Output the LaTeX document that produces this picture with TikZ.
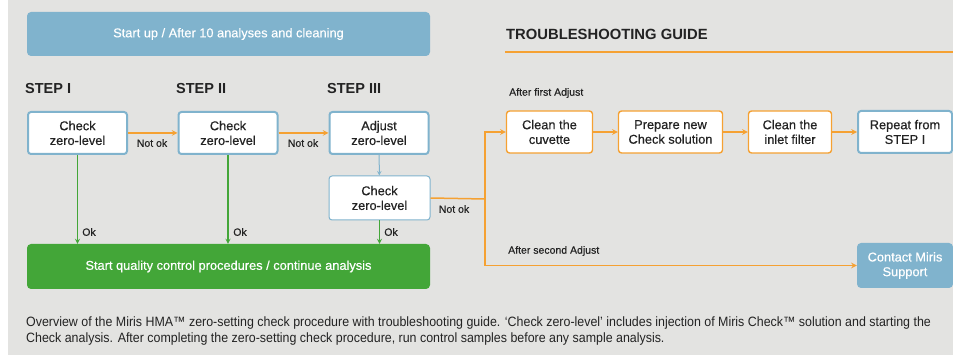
\documentclass[tikz,border=0pt]{standalone}
\usepackage{fontspec}
\setmainfont{Liberation Sans}
\newfontfamily\capfont[FakeStretch=0.92]{Liberation Sans}
\newfontfamily\medfont[FakeBold=0.4]{Liberation Sans}
\usepackage{tikz}
\usetikzlibrary{shapes}
\usetikzlibrary{arrows}
\definecolor{bggray}{HTML}{E3E3E1}
\definecolor{mirisblue}{HTML}{80B3CD}
\definecolor{okgreen}{HTML}{43A638}
\definecolor{tsorange}{HTML}{F5A132}
\definecolor{txtdark}{HTML}{232323}

\begin{document}
\begin{tikzpicture}[x=1pt,y=-1pt]
        \useasboundingbox (0,0) rectangle (953,355);
        \fill[bggray] (8,0) rectangle (953,355);
        \tikzstyle{block} = [draw=mirisblue,line width=2pt,fill=white,rounded corners=3pt,minimum width=99pt,minimum height=42pt,inner sep=0pt,align=center,text=txtdark,font=\medfont\fontsize{12.8}{14.7}\selectfont]
        \tikzstyle{tsblock} = [block,draw=tsorange,line width=1.4pt]
        \tikzstyle{banner} = [rounded corners=4pt,minimum width=403pt,minimum height=44pt,inner sep=0pt,align=center,text=white,font=\medfont\fontsize{12.8}{14.7}\selectfont]
        \tikzstyle{steplabel} = [anchor=west,inner sep=0pt,text=txtdark,font=\fontsize{14.5}{16}\selectfont\bfseries]
        \tikzstyle{small} = [inner sep=0pt,text=txtdark,font=\medfont\fontsize{10.5}{12}\selectfont]
        \tikzstyle{okline} = [draw=okgreen,line width=1.2pt,->,>=stealth]
        \tikzstyle{tsline} = [draw=tsorange,line width=1.5pt]
        \node[banner,fill=mirisblue] (startup) at (228.5,34) {Start up / After 10 analyses and cleaning};
        \node[anchor=west,inner sep=0pt,text=txtdark,font=\fontsize{14.8}{16}\selectfont\bfseries] (guide) at (506,34) {TROUBLESHOOTING GUIDE};
        \draw[tsorange,line width=1.3pt] (505,52)--(953,52);
        \node[steplabel] (stepone) at (25,89) {STEP I};
        \node[steplabel] (steptwo) at (176,89) {STEP II};
        \node[steplabel] (stepthree) at (327,89) {STEP III};
        \node[block] (checkone) at (77.5,133) {Check\\zero-level};
        \node[block] (checktwo) at (228,133) {Check\\zero-level};
        \node[block] (adjust) at (379,133) {Adjust\\zero-level};
        \node[block,line width=1pt,minimum width=101pt,minimum height=44pt] (checkthree) at (379.5,198) {Check\\zero-level};
        \node[banner,fill=okgreen,minimum height=45pt] (quality) at (228.5,266.5) {Start quality control procedures / continue analysis};
        \node[tsblock,minimum width=86pt] (cuvette) at (549.5,132) {Clean the\\cuvette};
        \node[tsblock,minimum width=104pt] (prepare) at (670.5,132) {Prepare new\\Check solution};
        \node[tsblock,minimum width=83pt] (inlet) at (790,132) {Clean the\\inlet filter};
        \node[block,minimum width=94pt] (repeat) at (905,132) {Repeat from\\STEP I};
        \node[banner,fill=mirisblue,minimum width=96pt,minimum height=45pt] (contact) at (905,265.5) {Contact Miris\\Support};
        \draw[tsline,->,>=stealth] (checkone)--(checktwo);
        \draw[tsline,->,>=stealth] (checktwo)--(adjust);
        \node[small] (notokone) at (152,143) {Not ok};
        \node[small] (notoktwo) at (303,143) {Not ok};
        \draw[mirisblue,line width=1pt,->,>=stealth] (adjust)--(checkthree);
        \draw[okline] (checkone)--(checkone |- quality.north);
        \draw[okline] (checktwo)--(checktwo |- quality.north);
        \draw[okline] (checkthree)--(checkthree |- quality.north);
        \node[small] (okone) at (89,232) {Ok};
        \node[small] (oktwo) at (240,232) {Ok};
        \node[small] (okthree) at (391,232) {Ok};
        \coordinate (split) at (485,199);
        \draw[tsline] (checkthree.east)--(split);
        \node[small] (notokthree) at (454,209) {Not ok};
        \draw[tsline,->,>=stealth] (split) |- (cuvette.west);
        \draw[tsline,->,>=stealth] (split) |- (contact.west);
        \draw[tsline,->,>=stealth] (cuvette)--(prepare);
        \draw[tsline,->,>=stealth] (prepare)--(inlet);
        \draw[tsline,->,>=stealth] (inlet)--(repeat);
        \node[small,anchor=west] (firstadj) at (509,93) {After first Adjust};
        \node[small,anchor=west] (secondadj) at (508,251) {After second Adjust};
        \node[anchor=north west,inner sep=0pt,align=left,text=txtdark,font=\capfont\fontsize{13.5}{15.5}\selectfont] (caption) at (26,317) {Overview of the Miris HMA™ zero-setting check procedure with troubleshooting guide. ‘Check zero-level’ includes injection of Miris Check™ solution and starting the\\Check analysis. After completing the zero-setting check procedure, run control samples before any sample analysis.};
       \end{tikzpicture}
\end{document}
